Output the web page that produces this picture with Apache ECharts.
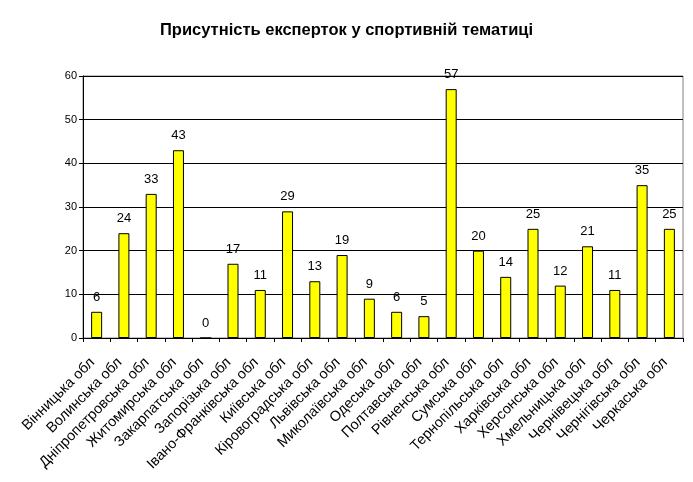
<!DOCTYPE html>
<html>
<head>
<meta charset="utf-8">
<script src="https://cdn.jsdelivr.net/npm/echarts@6/dist/echarts.min.js"></script>
<style>
html, body { margin: 0; padding: 0; background: #fff; }
#mycharts { width: 693px; height: 482px; }
</style>
</head>
<body>
<div id="mycharts"></div>
<script>
var regions = ['Вінницька обл', 'Волинська обл', 'Дніпропетровська обл', 'Житомирська обл',
    'Закарпатська обл', 'Запорізька обл', 'Івано-Франківська обл', 'Київська обл',
    'Кіровоградська обл', 'Львівська обл', 'Миколаївська обл', 'Одеська обл',
    'Полтавська обл', 'Рівненська обл', 'Сумська обл', 'Тернопільська обл',
    'Харківська обл', 'Херсонська обл', 'Хмельницька обл', 'Чернівецька обл',
    'Чернігівська обл', 'Черкаська обл'];
var experts = [6, 24, 33, 43, 0, 17, 11, 29, 13, 19, 9, 6, 5, 57, 20, 14, 25, 12, 21, 11, 35, 25];

var myChart = echarts.init(document.getElementById('mycharts'));
var option = {
    backgroundColor: '#fff',
    animation: false,
    title: {
        text: 'Присутність експерток у спортивній тематиці',
        left: 'center',
        top: 17,
        textStyle: { fontFamily: 'Arial', fontSize: 16.5, fontWeight: 'bold', color: '#000' }
    },
    grid: { left: 83, right: 10, top: 76, bottom: 144, show: true, borderColor: '#808080', borderWidth: 1 },
    xAxis: {
        type: 'category',
        data: regions,
        axisLine: { lineStyle: { color: '#000' } },
        axisTick: { show: true, lineStyle: { color: '#000' }, length: 4 },
        axisLabel: {
            rotate: 45,
            interval: 0,
            fontFamily: 'Arial',
            fontSize: 14.5,
            color: '#000',
            margin: 18,
            padding: [0, 6, 0, 0]
        }
    },
    yAxis: {
        type: 'value',
        min: 0,
        max: 60,
        interval: 10,
        axisLine: { show: true, lineStyle: { color: '#000' } },
        axisTick: { show: true, inside: false, length: 4, lineStyle: { color: '#000' } },
        axisLabel: { fontFamily: 'Arial', fontSize: 11, color: '#000', margin: 6 },
        splitLine: { lineStyle: { color: '#000', width: 1 } }
    },
    series: [{
        type: 'bar',
        data: experts,
        barWidth: 11,
        itemStyle: { color: '#ffff00', borderColor: '#000', borderWidth: 1 },
        label: {
            show: true,
            position: 'top',
            distance: 8,
            fontFamily: 'Arial',
            fontSize: 13,
            color: '#000'
        }
    }]
};
myChart.setOption(option);
</script>
</body>
</html>
